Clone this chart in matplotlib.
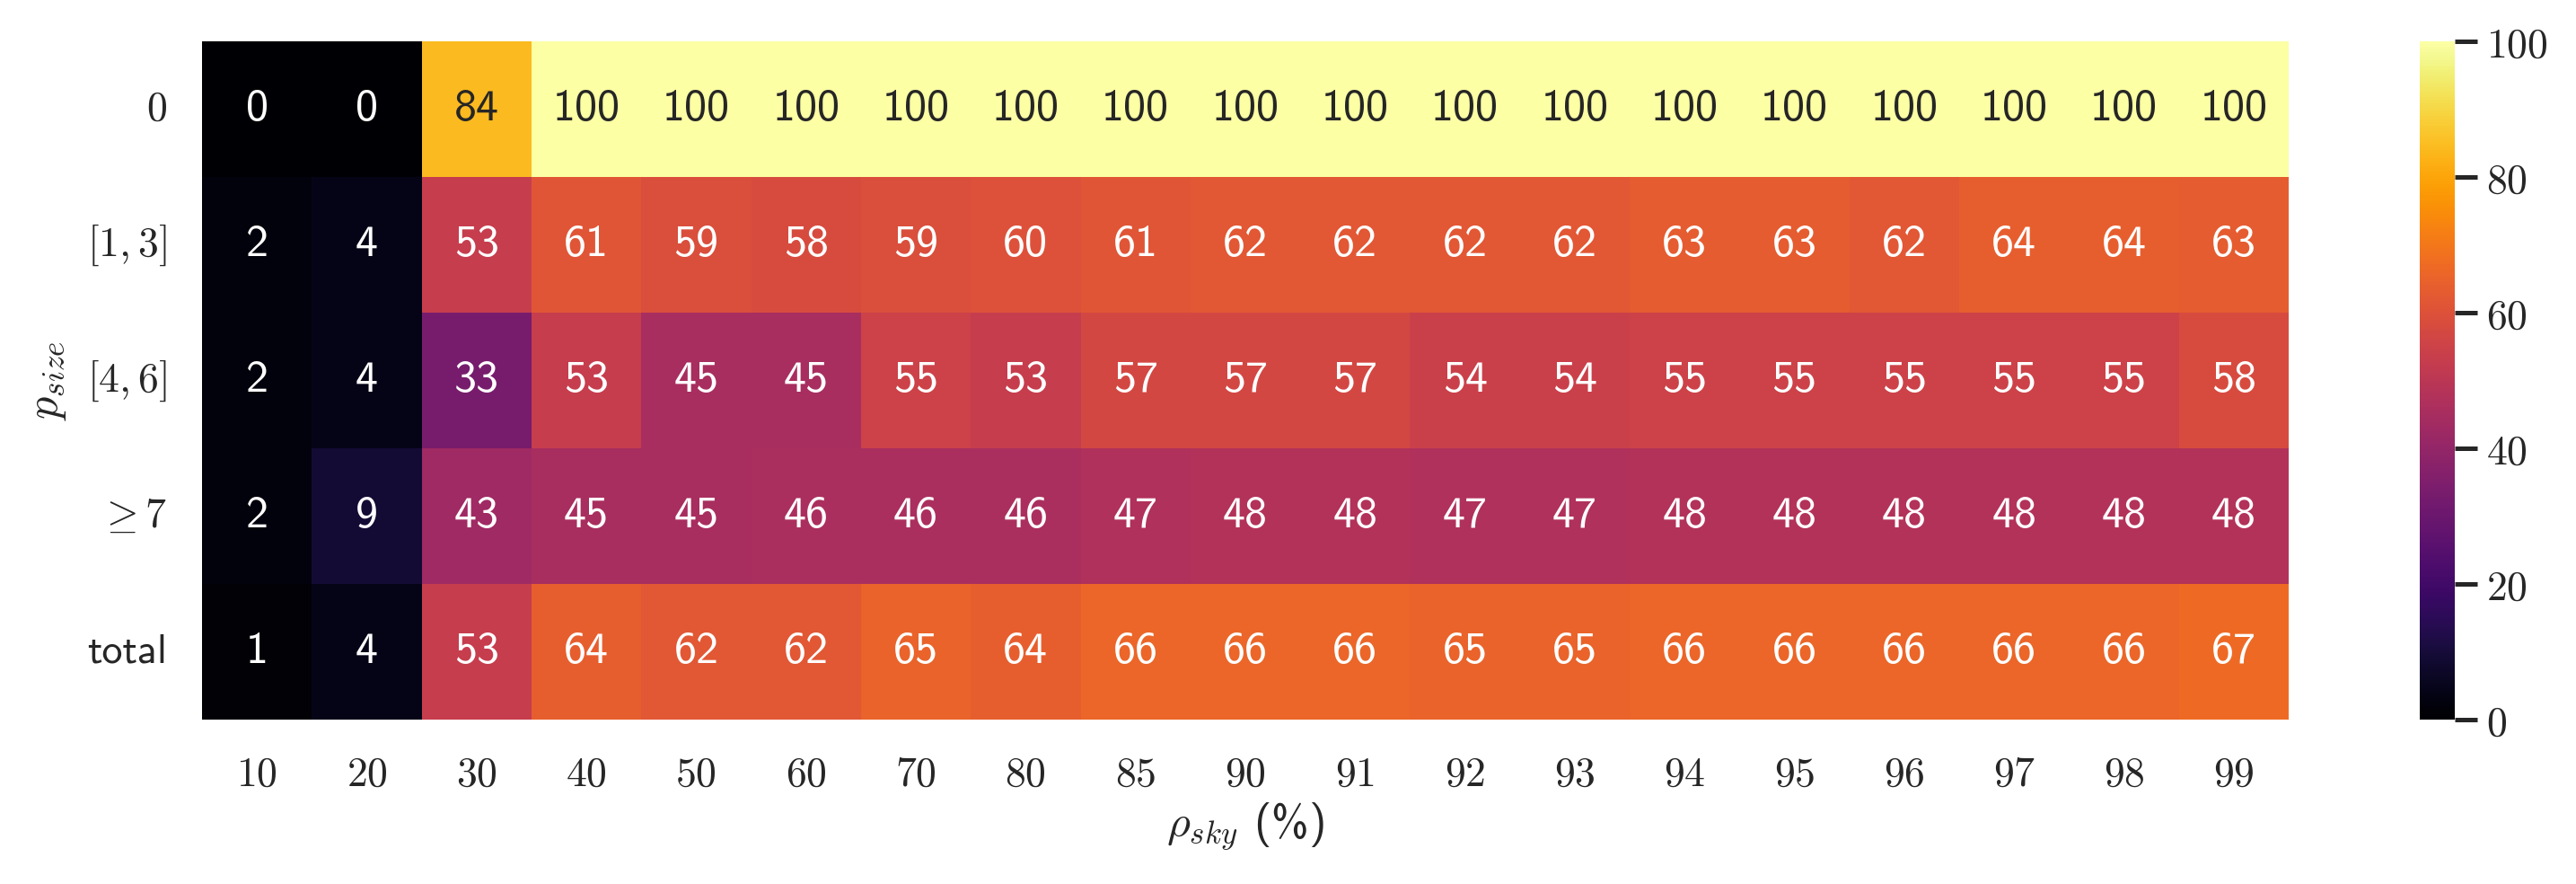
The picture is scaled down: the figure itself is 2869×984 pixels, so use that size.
import numpy as np
import matplotlib
matplotlib.use('Agg')
import matplotlib.pyplot as plt
import seaborn as sns

sns.set_theme(style='white', context='talk')
plt.rcParams['mathtext.fontset'] = 'cm'

sky = [10, 20, 30, 40, 50, 60, 70, 80, 85, 90, 91, 92, 93, 94, 95, 96, 97, 98, 99]
rows = ['0', '[1,3]', '[4,6]', r'\geq 7', 'total']

row_0 = [0, 0, 84, 100, 100, 100, 100, 100, 100, 100, 100, 100, 100, 100, 100, 100, 100, 100, 100]
row_1_3 = [2, 4, 53, 61, 59, 58, 59, 60, 61, 62, 62, 62, 62, 63, 63, 62, 64, 64, 63]
row_4_6 = [2, 4, 33, 53, 45, 45, 55, 53, 57, 57, 57, 54, 54, 55, 55, 55, 55, 55, 58]
row_7 = [2, 9, 43, 45, 45, 46, 46, 46, 47, 48, 48, 47, 47, 48, 48, 48, 48, 48, 48]
row_total = [1, 4, 53, 64, 62, 62, 65, 64, 66, 66, 66, 65, 65, 66, 66, 66, 66, 66, 67]

data = np.array([row_0, row_1_3, row_4_6, row_7, row_total])

W, H = 2869, 984
fig = plt.figure(figsize=(W / 200, H / 200), dpi=200)
ax = fig.add_axes([225 / W, 1 - 801 / H, (2549 - 225) / W, (801 - 46) / H])
cax = fig.add_axes([2695 / W, 1 - 801 / H, 39 / W, (801 - 46) / H])

# cmss10 ships with matplotlib: close to the LaTeX sans used in the figure
sns.heatmap(data, ax=ax, cbar_ax=cax, cmap='inferno', vmin=0, vmax=100,
            annot=True, fmt='d', annot_kws={'fontsize': 18, 'family': 'cmss10'})

ax.set_xticklabels([r'$%d$' % s for s in sky], rotation=0)
ax.set_yticklabels(['total' if r == 'total' else r'$%s$' % r for r in rows], rotation=0)
ax.get_yticklabels()[-1].set_family('cmss10')
ax.tick_params(axis='both', length=0, pad=14, labelsize=16.5, colors='#262626')
ax.set_xlabel(r'$\rho_{sky}$ (%)', fontsize=18, color='#262626', family='cmss10')
ax.set_ylabel(r'$p_{size}$', fontsize=18, color='#262626')
ax.yaxis.set_label_coords(-0.064, 0.5)
ax.xaxis.set_label_coords(0.5, -0.12)

cax.tick_params(length=9, width=1.8, labelsize=16.5, colors='#262626')
cax.set_yticks([0, 20, 40, 60, 80, 100])
cax.set_yticklabels([r'$%d$' % t for t in [0, 20, 40, 60, 80, 100]])

fig.savefig('out.png', dpi=200)
